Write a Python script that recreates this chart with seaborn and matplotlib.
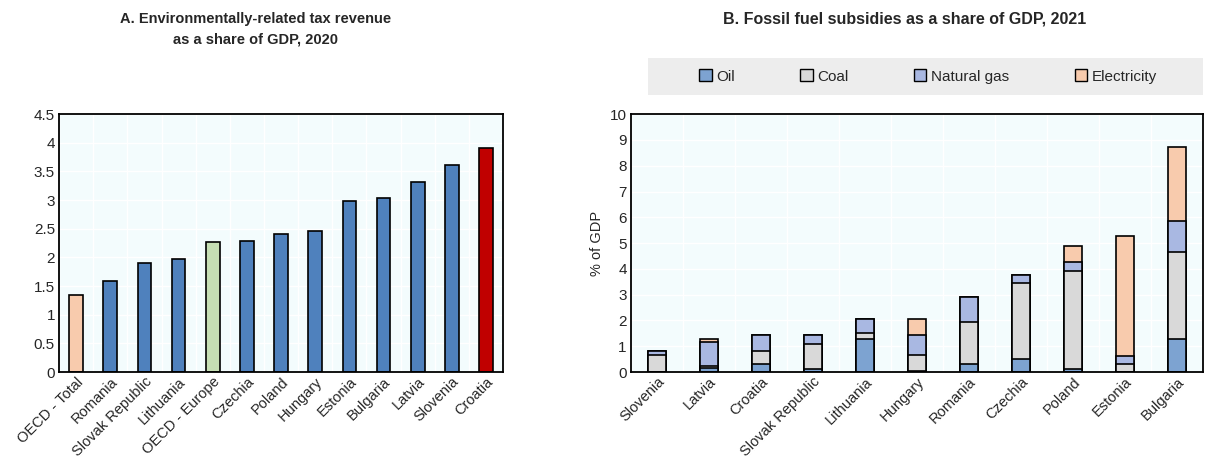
import numpy as np
import pandas as pd
import seaborn as sns
import matplotlib.pyplot as plt
from matplotlib.patches import Patch, Rectangle
from matplotlib.ticker import FixedLocator

# Panel A data
tax_countries = ['OECD - Total', 'Romania', 'Slovak Republic', 'Lithuania', 'OECD - Europe',
                 'Czechia', 'Poland', 'Hungary', 'Estonia', 'Bulgaria', 'Latvia', 'Slovenia', 'Croatia']
tax_values = [1.35, 1.59, 1.90, 1.98, 2.27, 2.28, 2.41, 2.46, 2.99, 3.03, 3.31, 3.61, 3.91]

# Panel B data
sub_countries = ['Slovenia', 'Latvia', 'Croatia', 'Slovak Republic', 'Lithuania', 'Hungary',
                 'Romania', 'Czechia', 'Poland', 'Estonia', 'Bulgaria']
oil = [0.00, 0.15, 0.30, 0.12, 1.30, 0.03, 0.33, 0.52, 0.12, 0.02, 1.28]
coal = [0.65, 0.07, 0.50, 0.98, 0.22, 0.65, 1.60, 2.93, 3.80, 0.28, 3.38]
gas = [0.15, 0.95, 0.62, 0.33, 0.53, 0.75, 0.97, 0.32, 0.35, 0.33, 1.20]
electricity = [0.00, 0.10, 0.02, 0.00, 0.00, 0.62, 0.00, 0.00, 0.60, 4.65, 2.87]

sns.set_style('white')
plt.rcParams['font.family'] = ['Liberation Sans', 'DejaVu Sans']
plt.rcParams['font.size'] = 10

BLUE = '#4F81BD'
colors_a = [BLUE] * len(tax_countries)
colors_a[0] = '#F8CBAD'
colors_a[4] = '#C6DFB4'
colors_a[-1] = '#C00000'

seg_colors = {'Oil': '#7DA3D1', 'Coal': '#D9D9D9', 'Natural gas': '#A9B8E2', 'Electricity': '#F8CBAD'}
BG = '#F3FCFD'

fig = plt.figure(figsize=(12.1, 4.68), dpi=100)
axA = fig.add_axes([0.0488, 0.205, 0.367, 0.551])
axB = fig.add_axes([0.5215, 0.205, 0.4727, 0.551])


def style_axis(ax, n):
    ax.set_facecolor(BG)
    for s in ax.spines.values():
        s.set_linewidth(1.3)
        s.set_color('black')
    ax.set_xlim(-0.5, n - 0.5)
    ax.xaxis.set_minor_locator(FixedLocator(np.arange(-0.5, n, 1.0)))
    ax.tick_params(axis='x', which='major', length=0, labelsize=10.5, pad=2)
    ax.tick_params(axis='x', which='minor', direction='in', length=4, width=1.3)
    ax.tick_params(axis='y', which='major', direction='in', length=4, width=1.3, labelsize=11, pad=3)
    ax.grid(axis='y', which='major', color='white', lw=1)
    ax.grid(axis='x', which='minor', color='white', lw=1)
    ax.set_axisbelow(True)
    for lab in ax.get_xticklabels():
        lab.set_rotation(45)
        lab.set_ha('right')
        lab.set_rotation_mode('anchor')
    ax.set_xlabel('')


# Panel A
dfA = pd.DataFrame({'country': tax_countries, 'value': tax_values})
sns.barplot(data=dfA, x='country', y='value', hue='country', palette=colors_a, legend=False,
            saturation=1, width=0.4, edgecolor='black', linewidth=1.2, ax=axA)
axA.set_ylim(0, 4.5)
axA.set_yticks(np.arange(0, 4.51, 0.5))
axA.set_yticklabels([f'{v:g}' for v in np.arange(0, 4.51, 0.5)])
axA.set_ylabel('')
style_axis(axA, len(tax_countries))

# Panel B: stacked bars drawn from the top layer down
layers = [('Electricity', electricity), ('Natural gas', gas), ('Coal', coal), ('Oil', oil)]
stack = np.array([oil, coal, gas, electricity]).sum(axis=0)
for name, vals in layers:
    dfB = pd.DataFrame({'country': sub_countries, 'value': stack})
    sns.barplot(data=dfB, x='country', y='value', color=seg_colors[name], saturation=1, width=0.35,
                edgecolor='black', linewidth=1.2, ax=axB)
    stack = stack - np.array(vals)
axB.set_ylim(0, 10)
axB.set_yticks(range(0, 11))
axB.set_ylabel('% of GDP', fontsize=10.5)
style_axis(axB, len(sub_countries))

# Titles
fig.text(0.211, 0.975, 'A. Environmentally-related tax revenue\nas a share of GDP, 2020',
         ha='center', va='top', fontweight='bold', fontsize=10.5, linespacing=1.6)
fig.text(0.748, 0.975, 'B. Fossil fuel subsidies as a share of GDP, 2021',
         ha='center', va='top', fontweight='bold', fontsize=11.5)

# Legend on a light grey band
fig.patches.append(Rectangle((0.5355, 0.797), 0.459, 0.079, transform=fig.transFigure,
                             facecolor='#EDEDED', edgecolor='none', zorder=0))
handles = [Patch(facecolor=seg_colors[k], edgecolor='black', lw=1) for k in ['Oil', 'Coal', 'Natural gas', 'Electricity']]
leg = fig.legend(handles, ['Oil', 'Coal', 'Natural gas', 'Electricity'], ncol=4,
                 loc='center', bbox_to_anchor=(0.767, 0.8365), frameon=False,
                 fontsize=11, handlelength=0.8, handleheight=0.8,
                 handletextpad=0.3, borderaxespad=0, columnspacing=4.3)

fig.savefig('out.png', dpi=100)
